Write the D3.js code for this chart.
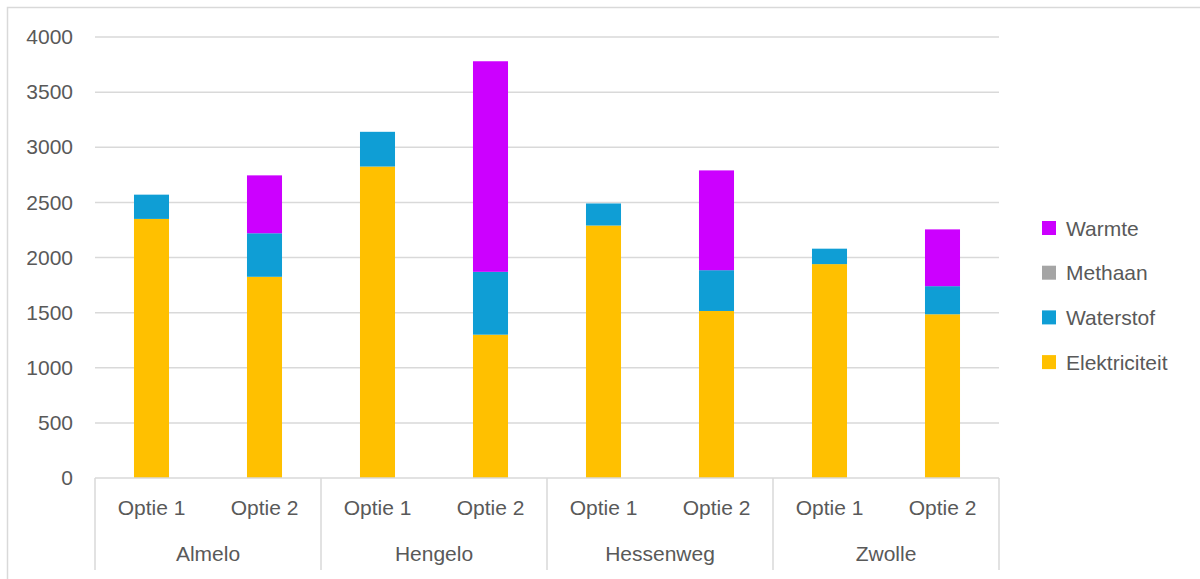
<!DOCTYPE html>
<html>
<head>
<meta charset="utf-8">
<script src="https://cdn.jsdelivr.net/npm/d3@7/dist/d3.min.js"></script>
<style>
  html, body { margin: 0; padding: 0; background: #fff; }
  svg { display: block; font-family: "Liberation Sans", Arial, sans-serif; }
</style>
</head>
<body>
<svg id="chart" width="1200" height="579"></svg>
<script>
// Locations and options
const locations = ["Almelo", "Hengelo", "Hessenweg", "Zwolle"];
const options = ["Optie 1", "Optie 2"];

// Series in stacking order (bottom to top)
const seriesNames = ["Elektriciteit", "Waterstof", "Methaan", "Warmte"];
const seriesColors = ["#FFC000", "#0F9ED5", "#A5A5A5", "#CC00FF"];

// Values per bar: Almelo O1, Almelo O2, Hengelo O1, Hengelo O2, Hessenweg O1, Hessenweg O2, Zwolle O1, Zwolle O2
const elektriciteit = [2350, 1825, 2825, 1300, 2290, 1515, 1940, 1485];
const waterstof     = [ 220,  395,  315,  570,  200,  370,  140,  255];
const methaan       = [   0,    0,    0,    0,    0,    0,    0,    0];
const warmte        = [   0,  525,    0, 1910,    0,  905,    0,  515];

const yTicks = [0, 500, 1000, 1500, 2000, 2500, 3000, 3500, 4000];

const svg = d3.select("#chart");
const textColor = "#595959";
const gridColor = "#D9D9D9";

// Outer chart frame
svg.append("rect")
  .attr("x", 7.5).attr("y", 7.5)
  .attr("width", 1200).attr("height", 600)
  .attr("fill", "none").attr("stroke", gridColor).attr("stroke-width", 1.5);

const plot = { left: 95, right: 999, top: 37, bottom: 478 };

// Build rows for stacking
const rows = [];
locations.forEach((loc, li) => {
  options.forEach((opt, oi) => {
    const i = li * options.length + oi;
    rows.push({
      key: loc + "|" + opt, loc, opt,
      Elektriciteit: elektriciteit[i],
      Waterstof: waterstof[i],
      Methaan: methaan[i],
      Warmte: warmte[i]
    });
  });
});

const x0 = d3.scaleBand().domain(locations).range([plot.left, plot.right]).padding(0);
const x1 = d3.scaleBand().domain(options).range([0, x0.bandwidth()]).paddingInner(0.69).paddingOuter(0.345);
const y = d3.scaleLinear().domain([0, 4000]).range([plot.bottom, plot.top]);

// Gridlines
svg.append("g")
  .selectAll("line")
  .data(yTicks.filter(t => t > 0))
  .join("line")
  .attr("x1", plot.left).attr("x2", plot.right)
  .attr("y1", d => y(d)).attr("y2", d => y(d))
  .attr("stroke", gridColor).attr("stroke-width", 1.5);

// Y axis labels
const yAxis = d3.axisLeft(y).tickValues(yTicks).tickSize(0).tickPadding(0).tickFormat(d3.format("d"));
const yg = svg.append("g").attr("transform", `translate(${plot.left - 22},0)`).call(yAxis);
yg.select(".domain").remove();
yg.selectAll("text")
  .attr("fill", textColor).attr("font-size", 21)
  .attr("font-family", "Liberation Sans, Arial, sans-serif");

// Stacked bars
const stack = d3.stack().keys(seriesNames);
const layers = stack(rows);
const color = d3.scaleOrdinal().domain(seriesNames).range(seriesColors);

svg.append("g")
  .selectAll("g")
  .data(layers)
  .join("g")
  .attr("fill", d => color(d.key))
  .selectAll("rect")
  .data(d => d.filter(s => s[1] - s[0] > 0))
  .join("rect")
  .attr("x", d => x0(d.data.loc) + x1(d.data.opt))
  .attr("width", x1.bandwidth())
  .attr("y", d => y(d[1]))
  .attr("height", d => y(d[0]) - y(d[1]));

// Category axis: baseline, separators and two label rows
const axisG = svg.append("g");
axisG.append("line")
  .attr("x1", plot.left).attr("x2", plot.right)
  .attr("y1", plot.bottom).attr("y2", plot.bottom)
  .attr("stroke", gridColor).attr("stroke-width", 1.5);

const separators = locations.map(l => x0(l)).concat([plot.right]);
axisG.selectAll("line.sep")
  .data(separators)
  .join("line")
  .attr("class", "sep")
  .attr("x1", d => d).attr("x2", d => d)
  .attr("y1", plot.bottom).attr("y2", 570)
  .attr("stroke", gridColor).attr("stroke-width", 1.5);

axisG.selectAll("text.opt")
  .data(rows)
  .join("text")
  .attr("class", "opt")
  .attr("x", d => x0(d.loc) + x1(d.opt) + x1.bandwidth() / 2)
  .attr("y", 515)
  .attr("text-anchor", "middle")
  .attr("fill", textColor).attr("font-size", 21)
  .text(d => d.opt);

axisG.selectAll("text.loc")
  .data(locations)
  .join("text")
  .attr("class", "loc")
  .attr("x", d => x0(d) + x0.bandwidth() / 2)
  .attr("y", 561)
  .attr("text-anchor", "middle")
  .attr("fill", textColor).attr("font-size", 21)
  .text(d => d);

// Legend (top series first)
const legendItems = seriesNames.slice().reverse();
const legend = svg.append("g").attr("transform", "translate(1042,228)");
const li = legend.selectAll("g")
  .data(legendItems)
  .join("g")
  .attr("transform", (d, i) => `translate(0,${i * 44.7})`);
li.append("rect")
  .attr("x", 0).attr("y", -7).attr("width", 14).attr("height", 14)
  .attr("fill", d => color(d));
li.append("text")
  .attr("x", 24).attr("y", 0).attr("dy", "0.36em")
  .attr("fill", textColor).attr("font-size", 21)
  .text(d => d);
</script>
</body>
</html>
